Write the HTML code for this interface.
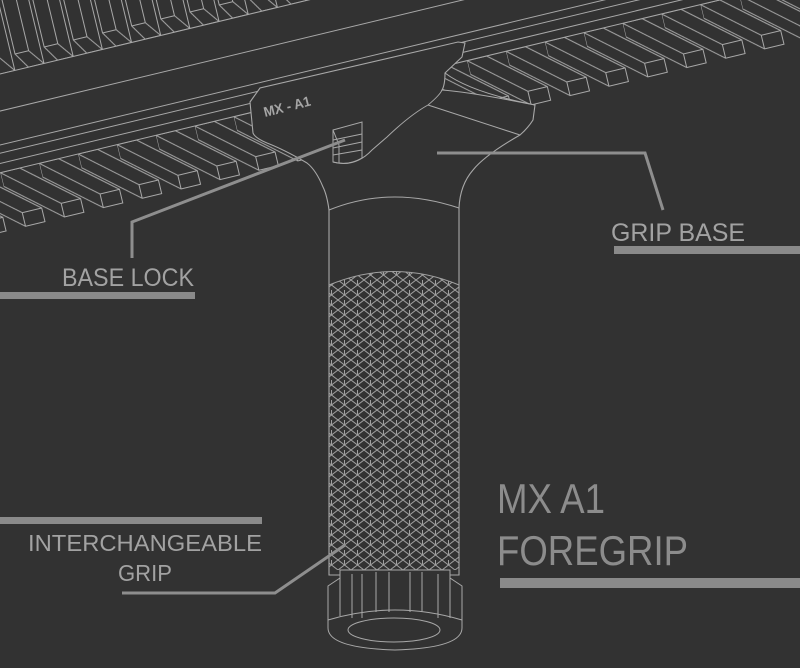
<!DOCTYPE html>
<html><head><meta charset="utf-8"><style>
html,body{margin:0;padding:0;background:#323232;}
svg{display:block}
text{font-family:"Liberation Sans Narrow","Liberation Sans",sans-serif;}
</style></head><body>
<svg width="800" height="668" viewBox="0 0 800 668" xmlns="http://www.w3.org/2000/svg">
<defs>
<pattern id="lt" patternUnits="userSpaceOnUse" width="40" height="75" x="0" y="168">
 <g fill="none" stroke="#a8a8a8" stroke-width="1">
  <g id="tooth"><path d="M0,0 L20,0 L72,44 L72,58 L52,58 L0,14 Z M52,58 L52,44 L72,44 M52,44 L0,0"/></g>
  <use href="#tooth" x="-40"/><use href="#tooth" x="-80"/>
 </g>
</pattern>
<pattern id="ut" patternUnits="userSpaceOnUse" width="30" height="200" x="0" y="-128">
 <g fill="none" stroke="#a8a8a8" stroke-width="1">
  <path d="M2,0 L2,184 L12,200 L28,200 L28,0 M2,184 L16,184 L28,200 M16,184 L16,0"/>
 </g>
</pattern>
<pattern id="kn" patternUnits="userSpaceOnUse" width="13" height="10">
 <path d="M0,0 L13,10 M13,0 L0,10 M6.5,0 L6.5,5" stroke="#a0a0a0" stroke-width="1" fill="none"/>
</pattern>
<clipPath id="knc"><path d="M329,285 Q394,258 459,285 L459,570 L329,570 Z"/></clipPath>
</defs>

<g transform="rotate(-13.5)">
 <rect x="-200" y="-128" width="1300" height="200" fill="url(#ut)"/>
 <rect x="-200" y="168" width="1300" height="70" fill="url(#lt)"/>
 <g stroke="#a8a8a8" stroke-width="1" fill="none">
  <path d="M-200,72 H1100 M-200,108 H1100 M-200,141 H1100 M-200,149 H1100 M-200,159 H1100 M-200,168 H1100"/>
 </g>
</g>

<g stroke="#a8a8a8" stroke-width="1.1" fill="#323232">
 <path d="M250,102 L260,88 L458,42 L465,43 L462,57 L445,73 Q445,85 442,90 Q470,92 535,105 L533,120 Q528,128 520,135 Q485,155 473,170 Q460,185 459,208 L459,575 L329,575 L329,210 Q327,195 323,187 Q316,170 307,163 Q285,150 267,143 Q255,138 253,133 Z"/>
</g>
<g stroke="#a8a8a8" stroke-width="1" fill="none">
 <path d="M445,73 Q470,92 535,105"/>
 <path d="M428,105 L520,135"/>
 <path d="M333,162 Q355,168 372,150 L387,137 Q410,115 428,105 Q440,95 442,90"/>
 <path d="M329,210 Q390,185 459,208"/>
 <path d="M333,130 L362,122 L362,158 Q348,166 333,162 Z M333,140 L362,134 M333,148 L362,142 M333,155 L362,150 M333,130 L339,145 L339,163"/>
</g>
<text x="265" y="117" transform="rotate(-14 265 117)" font-size="14" font-weight="bold" fill="#a5a5a5" textLength="48" lengthAdjust="spacingAndGlyphs">MX - A1</text>

<g clip-path="url(#knc)">
 <rect x="329" y="255" width="131" height="320" fill="url(#kn)"/>
</g>
<path d="M329,285 Q394,258 459,285" stroke="#a0a0a0" fill="none"/>

<g stroke="#a8a8a8" stroke-width="1" fill="#323232">
 <path d="M328,586 L340,578 L340,570 L450,570 L450,578 L462,586 L462,628 Q462,648 395,650 Q328,648 328,628 Z"/>
 <path fill="none" d="M340,578 L340,616 M352,574 L352,618 M362,574 L362,618 M376,572 L376,612 M389,572 L389,612 M410,572 L410,612 M422,572 L422,612 M438,574 L438,618 M450,578 L450,618 M328,620 Q395,600 462,620"/>
 <ellipse cx="394" cy="630" rx="46" ry="12" fill="none"/>
</g>

<g stroke="#8e8e8e" stroke-width="3" fill="none">
 <path d="M437,153 L645,153 L663,210"/>
 <path d="M345,140 L132,222 L132,258"/>
 <path d="M122,593 L275,593 L345,545"/>
</g>
<g fill="#8a8a8a">
 <rect x="614" y="246" width="186" height="8"/>
 <rect x="0" y="292" width="195" height="7"/>
 <rect x="0" y="517" width="262" height="7"/>
 <rect x="500" y="578" width="300" height="10"/>
</g>
<g fill="#a2a2a2">
 <text x="611" y="241" font-size="25" textLength="134" lengthAdjust="spacingAndGlyphs">GRIP BASE</text>
 <text x="62" y="286" font-size="25" textLength="132" lengthAdjust="spacingAndGlyphs">BASE LOCK</text>
 <text x="28" y="551" font-size="23" textLength="234" lengthAdjust="spacingAndGlyphs">INTERCHANGEABLE</text>
 <text x="118" y="581" font-size="23" textLength="54" lengthAdjust="spacingAndGlyphs">GRIP</text>
</g>
<g fill="#8c8c8c">
 <text x="497" y="513" font-size="42" textLength="108" lengthAdjust="spacingAndGlyphs">MX A1</text>
 <text x="497" y="565" font-size="42" textLength="191" lengthAdjust="spacingAndGlyphs">FOREGRIP</text>
</g>
</svg>
</body></html>
